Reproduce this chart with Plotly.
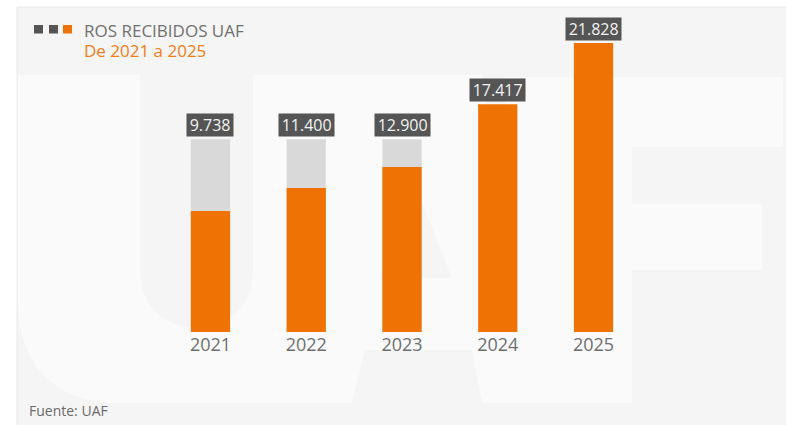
import plotly.graph_objects as go

# ---- data ----
years = ["2021", "2022", "2023", "2024", "2025"]
received = [9738, 11400, 12900, 17417, 21828]
backdrop = [14900, 14900, 14900, None, None]
value_labels = ["9.738", "11.400", "12.900", "17.417", "21.828"]

title_main = "ROS RECIBIDOS UAF"
title_sub = "De 2021 a 2025"
source = "Fuente: UAF"

W, H = 786, 425
ORANGE = "#ef7304"
BACK = "#d9d9d9"
DARK = "#555555"
CARD = "#f5f5f5"
MARK = "#fafafa"


def px(x):
    return x / W


def py(y):
    return 1 - y / H


def path(cmds):
    out = []
    for c, pts in cmds:
        s = c
        for (x, y) in pts:
            s += " %.5f,%.5f" % (px(x), py(y))
        out.append(s)
    return " ".join(out)


fig = go.Figure()
fig.add_trace(go.Bar(x=years, y=backdrop, marker=dict(color=BACK, line=dict(width=0)),
                     hoverinfo="skip", showlegend=False))
fig.add_trace(go.Bar(x=years, y=received, marker=dict(color=ORANGE, line=dict(width=0)),
                     showlegend=False))

shapes = []
# card
shapes.append(dict(type="rect", xref="paper", yref="paper", x0=px(17), x1=px(800), y0=py(7), y1=py(440),
                   fillcolor=CARD, line=dict(color="#e9e9e9", width=1), layer="below"))
# watermark U
shapes.append(dict(type="path", xref="paper", yref="paper", layer="below", fillcolor=MARK, line=dict(width=0),
                   path=path([("M", [(18, 75)]), ("L", [(140, 75)]), ("L", [(140, 270)]),
                              ("C", [(140, 306), (165, 328), (197, 328)]),
                              ("C", [(229, 328), (253, 306), (253, 270)]),
                              ("L", [(253, 75)]), ("L", [(320, 75)]), ("L", [(320, 403)]),
                              ("L", [(120, 403)]), ("C", [(55, 403), (18, 365), (18, 300)]), ("Z", [])])))
# watermark A
shapes.append(dict(type="path", xref="paper", yref="paper", layer="below", fillcolor=MARK, line=dict(width=0),
                   path=path([("M", [(233, 403)]), ("L", [(318, 75)]), ("L", [(483, 75)]),
                              ("L", [(525, 403)]), ("L", [(482, 403)]), ("L", [(472, 350)]),
                              ("L", [(365, 350)]), ("L", [(352, 403)]), ("Z", [])])))
shapes.append(dict(type="path", xref="paper", yref="paper", layer="below", fillcolor=CARD, line=dict(width=0),
                   path=path([("M", [(380, 278)]), ("L", [(416, 187)]), ("L", [(452, 278)]), ("Z", [])])))
# watermark F
for (x0, y0, x1, y1) in [(505, 77, 783, 147), (512, 77, 632, 403), (632, 204, 762, 270)]:
    shapes.append(dict(type="rect", xref="paper", yref="paper", layer="below", fillcolor=MARK,
                       line=dict(width=0), x0=px(x0), x1=px(x1), y0=py(y0), y1=py(y1)))
# legend squares
for (x0, col) in [(34, DARK), (49, DARK), (63, ORANGE)]:
    shapes.append(dict(type="rect", xref="paper", yref="paper", layer="above", fillcolor=col,
                       line=dict(width=0), x0=px(x0), x1=px(x0 + 9), y0=py(25), y1=py(33.5)))

annotations = []
for i, (r, b, lab) in enumerate(zip(received, backdrop, value_labels)):
    top = max(r, b or 0)
    annotations.append(dict(x=i, y=top, xref="x", yref="y", text="&#8201;" + lab + "&#8201;",
                            showarrow=False, yanchor="bottom", xanchor="center", yshift=2,
                            bgcolor=DARK, borderpad=0,
                            font=dict(family="Open Sans", size=16, color="#f2f2f2")))
title_text = ("<span style='font-size:17px;color:#707070'>%s</span><br>"
              "<span style='font-size:17px;color:#f07d18'>%s</span>" % (title_main, title_sub))
annotations.append(dict(x=px(82), y=py(41), xref="paper", yref="paper", text=title_text, showarrow=False,
                        xanchor="left", yanchor="middle", align="left",
                        font=dict(family="Open Sans", size=15.4, color="#707070")))
annotations.append(dict(x=px(27), y=py(410), xref="paper", yref="paper", text=source, showarrow=False,
                        xanchor="left", yanchor="middle",
                        font=dict(family="Open Sans", size=14, color="#6a6a6a")))

fig.update_layout(
    width=W, height=H,
    margin=dict(l=0, r=0, t=0, b=0),
    paper_bgcolor="white", plot_bgcolor="rgba(0,0,0,0)",
    barmode="overlay", bargap=0.59,
    shapes=shapes, annotations=annotations,
    xaxis=dict(type="category", range=[-0.5, 4.5], domain=[px(162.6), px(641.4)],
               showgrid=False, showline=False, zeroline=False,
               ticks="", tickfont=dict(family="Open Sans", size=18, color="#6e6e6e")),
    yaxis=dict(domain=[py(332), py(43)], range=[1029, 21828], visible=False, showgrid=False),
    hovermode=False,
)

fig.write_html("out.html", config={"displayModeBar": False},
               post_script="document.body.style.margin='0';document.body.style.overflow='hidden';")
